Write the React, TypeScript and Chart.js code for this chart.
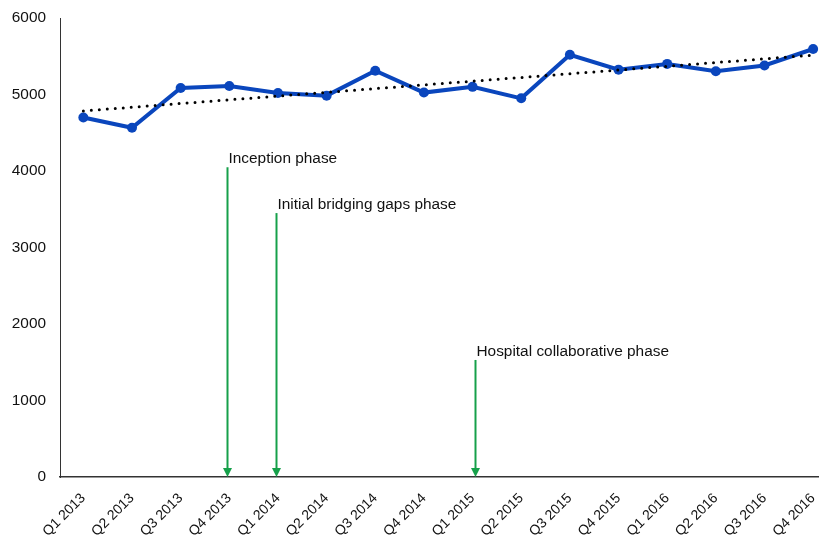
import React, { useEffect, useRef } from "react";
import { Chart, registerables } from "chart.js";

Chart.register(...registerables);

const quarters = [
  "Q1 2013", "Q2 2013", "Q3 2013", "Q4 2013",
  "Q1 2014", "Q2 2014", "Q3 2014", "Q4 2014",
  "Q1 2015", "Q2 2015", "Q3 2015", "Q4 2015",
  "Q1 2016", "Q2 2016", "Q3 2016", "Q4 2016",
];
const values = [4700, 4565, 5085, 5110, 5020, 4985, 5310, 5025, 5100, 4950, 5520, 5325, 5400, 5305, 5380, 5595];
const trendIndex = [0, 15];
const trendValues = [4785, 5515];

const phaseLabels = ["Inception phase", "Initial bridging gaps phase", "Hospital collaborative phase"];
const phaseIndex = [2.95, 3.95, 8.04];
const phaseTop = [4050, 3450, 1530];

const yTicks = [0, 1000, 2000, 3000, 4000, 5000, 6000];

const FONT = "'Liberation Sans', Arial, Helvetica, sans-serif";
const BLUE = "#0a46bd";
const GREEN = "#16a04a";

const phasePlugin = {
  id: "phases",
  afterDatasetsDraw(chart: any) {
    const { ctx, scales } = chart;
    const xs = scales.x;
    const ys = scales.y;
    const yBottom = ys.getPixelForValue(0);
    ctx.save();
    phaseLabels.forEach((label, i) => {
      const x = Math.round(xs.getPixelForValue(phaseIndex[i])) + 0.5;
      const yTop = ys.getPixelForValue(phaseTop[i]);
      ctx.strokeStyle = GREEN;
      ctx.lineWidth = 2;
      ctx.beginPath();
      ctx.moveTo(x, yTop);
      ctx.lineTo(x, yBottom - 8);
      ctx.stroke();
      ctx.fillStyle = GREEN;
      ctx.beginPath();
      ctx.moveTo(x - 4.5, yBottom - 9);
      ctx.lineTo(x + 4.5, yBottom - 9);
      ctx.lineTo(x, yBottom);
      ctx.closePath();
      ctx.fill();
      ctx.fillStyle = "#111";
      ctx.font = `15.4px ${FONT}`;
      ctx.textAlign = "left";
      ctx.textBaseline = "alphabetic";
      ctx.fillText(label, x + 1, yTop - 4);
    });
    ctx.restore();
  },
};

export default function App() {
  const ref = useRef<HTMLCanvasElement | null>(null);
  useEffect(() => {
    if (!ref.current) return;
    const chart = new Chart(ref.current, {
      type: "line",
      data: {
        datasets: [
          {
            label: "Trend",
            data: trendIndex.map((x, i) => ({ x, y: trendValues[i] })),
            borderColor: "#000",
            borderWidth: 3,
            borderDash: [0, 8],
            borderCapStyle: "round",
            pointRadius: 0,
            fill: false,
            clip: false,
          } as any,
          {
            label: "Values",
            data: values.map((y, x) => ({ x, y })),
            borderColor: BLUE,
            backgroundColor: BLUE,
            borderWidth: 4,
            pointRadius: 5,
            pointBackgroundColor: BLUE,
            pointBorderColor: BLUE,
            pointBorderWidth: 0,
            tension: 0,
            fill: false,
            clip: false,
          } as any,
        ],
      },
      options: {
        animation: false,
        responsive: true,
        maintainAspectRatio: false,
        layout: { padding: { top: 18, right: 0, left: 0, bottom: 0 } },
        plugins: {
          legend: { display: false },
          tooltip: { enabled: false },
        },
        scales: {
          x: {
            type: "linear",
            min: -0.48,
            max: 15.1,
            afterBuildTicks: (scale: any) => {
              scale.ticks = quarters.map((_, i) => ({ value: i }));
            },
            afterFit: (scale: any) => {
              scale.height = 60;
              scale.paddingLeft = 0;
              scale.paddingRight = 0;
            },
            grid: { display: false, drawTicks: false },
            border: { display: true, color: "#333", width: 1.5 },
            ticks: {
              autoSkip: false,
              minRotation: 45,
              maxRotation: 45,
              padding: 13,
              color: "#111",
              font: { family: FONT, size: 14 },
              callback: (v: any) => quarters[v] ?? "",
            },
          },
          y: {
            type: "linear",
            min: 0,
            max: 6000,
            afterBuildTicks: (scale: any) => {
              scale.ticks = yTicks.map((v) => ({ value: v }));
            },
            afterFit: (scale: any) => {
              scale.width = 60;
              scale.paddingTop = 0;
              scale.paddingBottom = 0;
            },
            grid: { display: false, drawTicks: false },
            border: { display: true, color: "#333", width: 1 },
            ticks: {
              padding: 14,
              color: "#111",
              font: { family: FONT, size: 15.4 },
              callback: (v: any) => String(v),
            },
          },
        },
      } as any,
      plugins: [phasePlugin],
    });
    return () => chart.destroy();
  }, []);
  return (
    <div style={{ position: "absolute", left: 0, top: 0, width: 823, height: 537, background: "#fff" }}>
      <canvas ref={ref} />
    </div>
  );
}
